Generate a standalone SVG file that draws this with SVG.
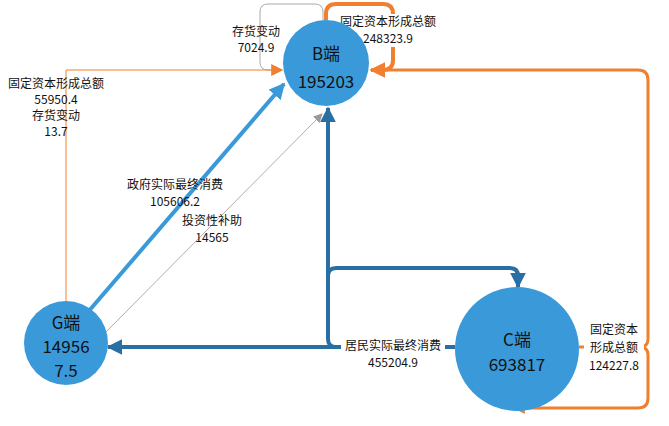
<svg xmlns="http://www.w3.org/2000/svg" width="669" height="426" viewBox="0 0 669 426">
<style>
text{font-family:"Noto Sans CJK SC","Noto Sans",sans-serif;text-anchor:middle;fill:#111}
.l{font-size:12px}
.n{font-size:17px}
.c{fill:#3a9ad9}
.bg{fill:#fff}
</style>
<defs>
<marker id="ao" viewBox="0 0 10 10" refX="9" refY="5" markerWidth="4" markerHeight="4" orient="auto" markerUnits="strokeWidth"><path d="M0,0L10,5L0,10z" fill="#f0802f"/></marker>
<marker id="aot" viewBox="0 0 10 10" refX="9" refY="5" markerWidth="12" markerHeight="12" orient="auto" markerUnits="userSpaceOnUse"><path d="M0,0L10,5L0,10z" fill="#f0802f"/></marker>
<marker id="ag" viewBox="0 0 10 10" refX="9" refY="5" markerWidth="9" markerHeight="9" orient="auto" markerUnits="userSpaceOnUse"><path d="M0,0L10,5L0,10z" fill="#999"/></marker>
<marker id="ab" viewBox="0 0 10 10" refX="9" refY="5" markerWidth="4" markerHeight="4" orient="auto" markerUnits="strokeWidth"><path d="M0,0L10,5L0,10z" fill="#2a6fa3"/></marker>
<marker id="al" viewBox="0 0 10 10" refX="9" refY="5" markerWidth="4" markerHeight="4" orient="auto" markerUnits="strokeWidth"><path d="M0,0L10,5L0,10z" fill="#3a9ad9"/></marker>
</defs>
<g id="connectors" fill="none">
<path d="M323,22V12q0,-8 -8,-8H268q-8,0 -8,8V62q0,8 8,8H282" stroke="#aaa" stroke-width="1" marker-end="url(#ag)"/>
<path d="M66,301V70H282" stroke="#f0802f" stroke-width="1" marker-end="url(#aot)"/>
<path d="M326,20V14q0,-10 10,-10H383q10,0 10,10V60q0,10 -10,10H371" stroke="#f0802f" stroke-width="4" marker-end="url(#ao)"/>
<path d="M579,347H640q8,0 8,-8V80q0,-10 -10,-10H371" stroke="#f0802f" stroke-width="3" marker-end="url(#ao)"/>
<path d="M640,347q8,0 8,8V398q0,10 -10,10H514" stroke="#f0802f" stroke-width="3" marker-end="url(#ao)"/>
<path d="M88,312L284,84" stroke="#3a9ad9" stroke-width="4" marker-end="url(#al)"/>
<path d="M104,334L322,114" stroke="#999" stroke-width="0.8" marker-end="url(#ag)"/>
<path d="M455,347H108" stroke="#2a6fa3" stroke-width="4" marker-end="url(#ab)"/>
<path d="M336,347q-8,0 -8,-8V108" stroke="#2a6fa3" stroke-width="4" marker-end="url(#ab)"/>
<path d="M328,276q0,-8 8,-8H510q8,0 8,8V287" stroke="#2a6fa3" stroke-width="4" marker-end="url(#ab)"/>
</g>
<g id="labels">
<text class="l" x="256" y="36">存货变动</text><text class="l" x="256" y="52">7024.9</text>
<rect class="bg" x="343" y="14" width="96" height="33"/>
<text class="l" x="388" y="26">固定资本形成总额</text><text class="l" x="388" y="43">248323.9</text>
<text class="l" x="56" y="88">固定资本形成总额</text><text class="l" x="56" y="104">55950.4</text>
<text class="l" x="56" y="120">存货变动</text><text class="l" x="56" y="136">13.7</text>
<text class="l" x="175" y="189">政府实际最终消费</text><text class="l" x="175" y="206">105606.2</text>
<text class="l" x="212" y="225">投资性补助</text><text class="l" x="212" y="242">14565</text>
<rect class="bg" x="341" y="337" width="104" height="17"/>
<text class="l" x="393" y="350">居民实际最终消费</text><text class="l" x="393" y="367">455204.9</text>
<rect class="bg" x="584" y="322" width="60" height="52"/>
<text class="l" x="614" y="334">固定资本</text><text class="l" x="614" y="352">形成总额</text><text class="l" x="614" y="370">124227.8</text>
</g>
<g id="B"><circle class="c" cx="326" cy="63" r="43"/><text class="n" x="326" y="60">B端</text><text class="n" x="326" y="88">195203</text></g>
<g id="C"><circle class="c" cx="517" cy="349" r="62"/><text class="n" x="517" y="346">C端</text><text class="n" x="517" y="371">693817</text></g>
<g id="G"><circle class="c" cx="66" cy="343" r="42"/><text class="n" x="66" y="329">G端</text><text class="n" x="66" y="353">14956</text><text class="n" x="66" y="377">7.5</text></g>
</svg>
